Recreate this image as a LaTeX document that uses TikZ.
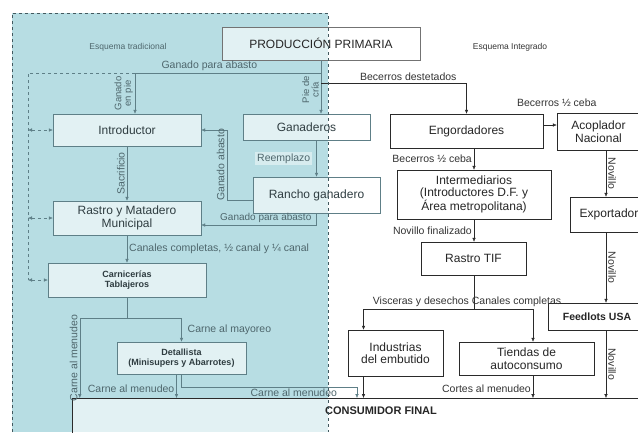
\documentclass[tikz,border=0pt]{standalone}
\usepackage{fontspec}
\setmainfont{Liberation Sans}
\usepackage[HTML]{xcolor}
\usetikzlibrary{positioning, arrows.meta}

\definecolor{fondoT}{HTML}{B7DDE3}
\definecolor{lineaT}{HTML}{5E7F87}
\definecolor{textoT}{HTML}{4E666C}
\definecolor{lineaI}{HTML}{2A2A2A}

\begin{document}
\begin{tikzpicture}[>={Latex[length=4pt,width=3.5pt]}, x=1pt, y=-1pt,
    caja/.style={draw, rectangle, fill=white, fill opacity=0.6, text opacity=1,
        align=center, inner sep=1pt, font=\fontsize{12}{12.5}\selectfont},
    cajaT/.style={caja, draw=lineaT, text=textoT!60!black},
    cajaI/.style={caja, draw=lineaI, text=black!85},
    chica/.style={font=\fontsize{9}{10}\selectfont\bfseries},
    etq/.style={font=\fontsize{10.5}{11}\selectfont, inner sep=2pt, text=black!80},
    etqT/.style={etq, text=textoT},
    flT/.style={draw=lineaT, ->},
    flI/.style={draw=lineaI, ->}]

    % 0. Background of the traditional scheme
    \useasboundingbox (0,0) rectangle (638,432);
    \fill[fondoT] (12,13) rectangle (328,432);

    % 1. Define Nodes: traditional side
    \node[cajaI, draw=black!55, minimum width=198pt, minimum height=33pt] (prod) at (321,43.5) {PRODUCCIÓN PRIMARIA};
    \node[cajaT, minimum width=148pt, minimum height=32pt] (introd) at (127,130) {Introductor};
    \node[cajaT, minimum width=127pt, minimum height=26pt] (ganad) at (306.5,127) {Ganaderos};
    \node[cajaT, minimum width=148pt, minimum height=34pt] (rastroM) at (127,218) {Rastro y Matadero\\Municipal};
    \node[cajaT, minimum width=127pt, minimum height=36pt] (rancho) at (316.5,195) {Rancho ganadero};
    \node[cajaT, chica, minimum width=158pt, minimum height=34pt] (carnic) at (127,280) {Carnicerías\\Tablajeros};
    \node[cajaT, chica, minimum width=129pt, minimum height=32pt] (detall) at (181.5,358) {Detallista\\(Minisupers y Abarrotes)};
    \node[cajaI, anchor=north, minimum width=618pt, text height=14pt, text depth=40pt, inner ysep=2pt,
        font=\fontsize{11}{12}\selectfont\bfseries] (consum) at (381,398) {CONSUMIDOR FINAL};

    % 2. Define Nodes: integrated side
    \node[cajaI, minimum width=153pt, minimum height=34pt] (engord) at (466.5,131) {Engordadores};
    \node[cajaI, minimum width=83pt, minimum height=37pt] (acopl) at (598.5,131.5) {Acoplador\\Nacional};
    \node[cajaI, minimum width=154pt, minimum height=49pt] (interm) at (474,194.5) {Intermediarios\\(Introductores D.F. y\\Área metropolitana)};
    \node[cajaI, minimum width=105pt, minimum height=33pt] (rastroTIF) at (473.5,258.5) {Rastro TIF};
    \node[cajaI, minimum width=78pt, minimum height=35pt] (exportd) at (609,214.5) {Exportador};
    \node[cajaI, minimum width=98pt, minimum height=27pt, font=\fontsize{10.5}{11}\selectfont\bfseries] (feedl) at (597,316.5) {Feedlots USA};
    \node[cajaI, minimum width=95pt, minimum height=46pt] (industr) at (395.5,353) {Industrias\\del embutido};
    \node[cajaI, minimum width=135pt, minimum height=33pt] (tiendas) at (526.5,358.5) {Tiendas de\\autoconsumo};

    % 3. Titles
    \node[etqT, font=\fontsize{8.5}{9}\selectfont] (eTrad) at (128,47) {Esquema tradicional};
    \node[etq, font=\fontsize{8.5}{9}\selectfont] (eInt) at (510,47) {Esquema Integrado};

    % 4. Arrows from PRODUCCION PRIMARIA
    \coordinate (jAbasto) at (321,73);
    \coordinate (jBec) at (321,83);
    \draw[flT] (prod.south) -- (prod.south |- ganad.north)
        node[pos=0.55, anchor=south, rotate=90, etqT, align=center, font=\fontsize{9.5}{9.5}\selectfont] {Pie de\\cría};
    \draw[flT] (jAbasto) -| ([xshift=8pt]introd.north)
        node[pos=0.3, above, etqT] {Ganado para abasto}
        node[pos=0.75, anchor=south, rotate=90, etqT, align=center, font=\fontsize{9.5}{9.5}\selectfont] {Ganado\\en pie};
    \draw[flI] (jBec) -| (engord.north) node[pos=0.3, above, etq] {Becerros destetados};

    % 5. Dashed distribution line
    \coordinate (dTop) at (28,73);
    \coordinate (dBot) at (28,280);
    \draw[lineaT, dashed] ([xshift=8pt]introd.north |- jAbasto) -- (dTop) -- (dBot);
    \draw[lineaT, dashed, <->] (dTop |- introd.west) -- (introd.west);
    \draw[lineaT, dashed, <->] (dTop |- rastroM.west) -- (rastroM.west);
    \draw[lineaT, dashed, <->] (dTop |- carnic.west) -- (carnic.west);

    % 6. Traditional chain
    \draw[flT] (introd.south) -- (rastroM.north) node[midway, anchor=south, rotate=90, etqT] {Sacrificio};
    \draw[flT] ([yshift=-5pt]rancho.west) -- ++(-26,0) |- node[pos=0.25, anchor=south, rotate=90, etqT] {Ganado abasto} (introd.east);
    \draw[flT] (rancho.north |- ganad.south) -- (rancho.north)
        node[midway, left=4pt, etqT, fill=white, fill opacity=0.45, text opacity=1] {Reemplazo};
    \draw[flT] (rancho.south) |- ([yshift=-7pt]rastroM.east) node[pos=0.72, above, etqT, font=\fontsize{10}{10}\selectfont] {Ganado para abasto};
    \draw[flT] (rastroM.south) -- (carnic.north) node[midway, right, etqT] {Canales completas, ½ canal y ¼ canal};

    % 7. Carnicerias and Detallista to the consumer
    \coordinate (jCarn) at (127,318);
    \coordinate (jDet) at (357,387);
    \draw[lineaT] (carnic.south) -- (jCarn);
    \draw[flT] (jCarn) -| ([xshift=8pt]consum.north west)
        node[pos=0.75, anchor=south, rotate=90, etqT] {Carne al menudeo};
    \draw[flT] (jCarn) -| (detall.north) node[pos=0.75, right=4pt, etqT] {Carne al mayoreo};
    \draw[flT] ([xshift=-5pt]detall.south) -- ([xshift=-5pt]detall.south |- consum.north)
        node[pos=0.6, left, etqT] {Carne al menudeo};
    \draw[flT] (detall.south) |- node[pos=0.82, below, etqT] {Carne al menudeo} (jDet) -- (jDet |- consum.north);

    % 8. Integrated chain
    \draw[flI] ([yshift=6pt]engord.east) -- ([yshift=6pt]engord.east -| acopl.west)
        node[pos=1, above=16pt, etq] {Becerros ½ ceba};
    \draw[flI] (interm.north |- engord.south) -- (interm.north) node[midway, left, etq] {Becerros ½ ceba};
    \draw[flI] (interm.south) -- (interm.south |- rastroTIF.north) node[midway, left, etq] {Novillo finalizado};
    \coordinate (jTIF) at (474,309);
    \draw[lineaI] (jTIF |- rastroTIF.south) -- (jTIF);
    \draw[flI] (jTIF) -| ([xshift=-32pt]industr.north) node[pos=0.24, above, etq] {Visceras y desechos};
    \draw[flI] (jTIF) -| ([xshift=6.5pt]tiendas.north) node[pos=0.36, above, etq] {Canales completas};
    \draw[flI] ([xshift=-32pt]industr.south) -- ([xshift=-32pt]industr.south |- consum.north);
    \draw[flI] ([xshift=6.5pt]tiendas.south) -- ([xshift=6.5pt]tiendas.south |- consum.north)
        node[pos=0.6, left, etq] {Cortes al menudeo};

    % 9. Export chain
    \draw[flI] ([xshift=-3pt]exportd.north |- acopl.south) -- ([xshift=-3pt]exportd.north)
        node[midway, anchor=south, rotate=-90, etq] {Novillo};
    \draw[flI] ([xshift=-3pt]exportd.south) -- ([xshift=-3pt]exportd.south |- feedl.north)
        node[midway, anchor=south, rotate=-90, etq] {Novillo};
    \draw[flI] ([xshift=-3pt]exportd.south |- feedl.south) -- ([xshift=-3pt]exportd.south |- consum.north)
        node[midway, anchor=south, rotate=-90, etq] {Novillo};

    % 10. Border of the traditional scheme
    \draw[lineaT!70!black, dashed] (12,432) -- (12,13) -- (328,13) -- (328,432);
\end{tikzpicture}
\end{document}
